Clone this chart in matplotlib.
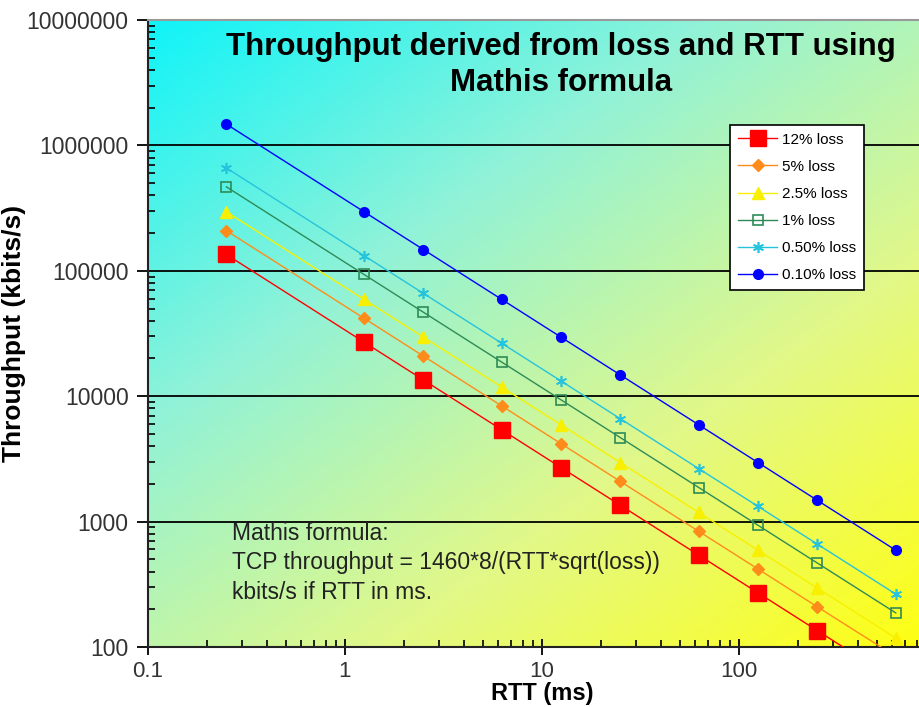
import numpy as np
import matplotlib
matplotlib.use("Agg")
import matplotlib.pyplot as plt
from matplotlib.colors import LinearSegmentedColormap
from matplotlib.ticker import LogLocator, NullFormatter, FixedLocator, FixedFormatter

plt.rcParams['font.family'] = ['Liberation Sans', 'DejaVu Sans']

# RTT in ms (x values) and throughput in kbits/s for each loss rate
rtt = [0.25, 1.25, 2.5, 6.25, 12.5, 25, 62.5, 125, 250, 625]
loss_12 = [134900, 26970, 13490, 5395, 2697, 1349, 540, 270, 135, 54]
loss_5 = [208900, 41790, 20890, 8358, 4179, 2089, 836, 418, 209, 84]
loss_2_5 = [295500, 59100, 29550, 11820, 5910, 2955, 1182, 591, 295, 118]
loss_1 = [467200, 93440, 46720, 18690, 9344, 4672, 1869, 934, 467, 187]
loss_0_5 = [660700, 132100, 66070, 26430, 13210, 6607, 2643, 1321, 661, 264]
loss_0_1 = [1477000, 295500, 147700, 59100, 29550, 14770, 5910, 2955, 1477, 591]

labels = ['12% loss', '5% loss', '2.5% loss', '1% loss', '0.50% loss', '0.10% loss']
x_ticks = [0.1, 1, 10, 100]
x_tick_labels = ['0.1', '1', '10', '100']
y_ticks = [100, 1000, 10000, 100000, 1000000, 10000000]
y_tick_labels = ['100', '1000', '10000', '100000', '1000000', '10000000']

fig = plt.figure(figsize=(9.2, 7.07), dpi=100)
ax = fig.add_axes([148 / 920, 60 / 707, 788 / 920, 627 / 707])
ax.set_xscale('log')
ax.set_yscale('log')
ax.set_xlim(0.1, 1000)
ax.set_ylim(100, 10000000)

# diagonal cyan -> yellow background of the plot area
cmap = LinearSegmentedColormap.from_list('bg', ['#10f4f8', '#90f2d8', '#e2f888', '#ffff10'])
u, v = np.meshgrid(np.linspace(0, 1, 300), np.linspace(0, 1, 300))
t = (u * 0.95 + v * 1.05) / 2
ax.imshow(t, cmap=cmap, extent=[0, 1, 0, 1], transform=ax.transAxes,
          aspect='auto', origin='upper', zorder=0, interpolation='bilinear')

for yv in y_ticks[1:-1]:
    ax.axhline(yv, color='black', lw=1.3, zorder=1)

ax.plot(rtt, loss_12, color='#ff0000', marker='s', ms=11, lw=1, label=labels[0], zorder=3)
ax.plot(rtt, loss_5, color='#ff8c1a', marker='D', ms=6, lw=1, label=labels[1], zorder=3)
ax.plot(rtt, loss_2_5, color='#f8f000', marker='^', ms=8, lw=1, label=labels[2], zorder=3)
ax.plot(rtt, loss_1, color='#2e8b57', marker='s', ms=7, mfc='none', mew=1.2, lw=1,
        label=labels[3], zorder=3)
ax.plot(rtt, loss_0_5, color='#26c4dc', marker=(6, 2, 0), ms=8, mew=1.2, lw=1,
        label=labels[4], zorder=3)
ax.plot(rtt, loss_0_1, color='#0000ff', marker='o', ms=7, lw=1, label=labels[5], zorder=3)

ax.xaxis.set_major_locator(FixedLocator(x_ticks))
ax.xaxis.set_major_formatter(FixedFormatter(x_tick_labels))
ax.yaxis.set_major_locator(FixedLocator(y_ticks))
ax.yaxis.set_major_formatter(FixedFormatter(y_tick_labels))
ax.xaxis.set_minor_locator(LogLocator(base=10, subs=np.arange(2, 10)))
ax.yaxis.set_minor_locator(LogLocator(base=10, subs=np.arange(2, 10)))
ax.xaxis.set_minor_formatter(NullFormatter())
ax.yaxis.set_minor_formatter(NullFormatter())
ax.tick_params(axis='x', which='major', direction='inout', length=12, width=1.3,
               labelsize=16, labelcolor='#333333', pad=4)
ax.tick_params(axis='y', which='major', direction='out', length=8, width=1.3,
               labelsize=16.5, labelcolor='#333333', pad=6)
ax.tick_params(which='minor', direction='in', length=5, width=1.2)

for side in ['left', 'bottom']:
    ax.spines[side].set_color('#222222')
    ax.spines[side].set_linewidth(1.5)
ax.spines['top'].set_color('#999999')
ax.spines['top'].set_linewidth(1.5)
ax.spines['right'].set_visible(False)

ax.set_xlabel('RTT (ms)', fontsize=17, fontweight='bold', labelpad=0)
ax.set_ylabel('Throughput (kbits/s)', fontsize=19, fontweight='bold')
ax.yaxis.set_label_coords((26 - 148) / 788, 0.5)

ax.text((561 - 148) / 788, 0.981,
        'Throughput derived from loss and RTT using\nMathis formula',
        transform=ax.transAxes, ha='center', va='top', fontsize=22.5,
        fontweight='bold', linespacing=1.28, zorder=4)

ax.text((232 - 148) / 788, (647 - 522) / 627,
        'Mathis formula:\nTCP throughput = 1460*8/(RTT*sqrt(loss))\nkbits/s if RTT in ms.',
        transform=ax.transAxes, ha='left', va='top', fontsize=16.5,
        color='#222222', linespacing=1.36, zorder=4)

leg = ax.legend(loc='upper left', bbox_to_anchor=((730 - 148) / 788, (647 - 125) / 627),
                fontsize=11, frameon=True, fancybox=False, edgecolor='black',
                framealpha=1, borderpad=0.5, labelspacing=0.86, handlelength=2.6,
                handletextpad=0.3, borderaxespad=0)
leg.get_frame().set_linewidth(1.2)
leg.set_zorder(5)

fig.savefig('out.png', dpi=100)
